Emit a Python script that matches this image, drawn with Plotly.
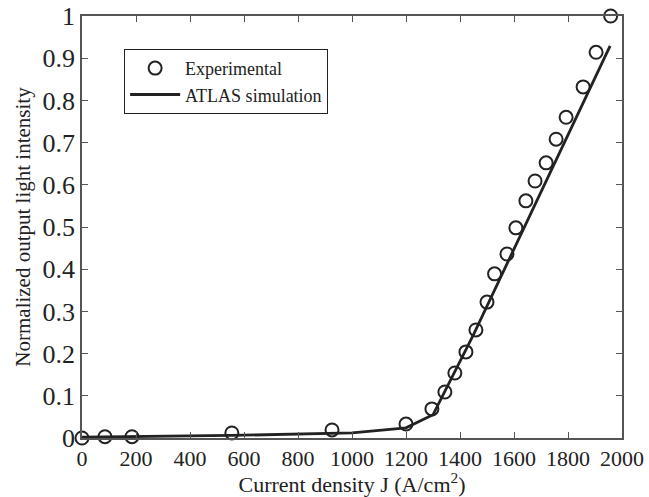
import plotly.graph_objects as go

exp_j = [0, 85, 185, 555, 926, 1200, 1296, 1344, 1381, 1422, 1459, 1500, 1528, 1574, 1607, 1644, 1678, 1719, 1756, 1793, 1856, 1904, 1958]
exp_i = [0.0, 0.003, 0.003, 0.012, 0.019, 0.033, 0.069, 0.109, 0.154, 0.204, 0.256, 0.322, 0.389, 0.436, 0.498, 0.562, 0.609, 0.652, 0.708, 0.76, 0.832, 0.914, 1.0]

sim_j = [0, 550, 1000, 1200, 1300, 1450, 1956]
sim_i = [0.002, 0.006, 0.012, 0.024, 0.055, 0.245, 0.929]

x_ticks = [0, 200, 400, 600, 800, 1000, 1200, 1400, 1600, 1800, 2000]
y_ticks = [0, 0.1, 0.2, 0.3, 0.4, 0.5, 0.6, 0.7, 0.8, 0.9, 1]

dark = "#222222"
axc = "#555555"
font = "Liberation Serif"

fig = go.Figure()
fig.add_trace(go.Scatter(x=exp_j, y=exp_i, mode="markers", name="Experimental",
                         marker=dict(symbol="circle-open", size=13, color=dark, line=dict(width=2, color=dark)),
                         cliponaxis=False))
fig.add_trace(go.Scatter(x=sim_j, y=sim_i, mode="lines", name="ATLAS simulation",
                         line=dict(color=dark, width=2.8), cliponaxis=False))

axis_common = dict(showline=True, linecolor=axc, linewidth=1.5, mirror="ticks", ticks="inside",
                   ticklen=6, tickcolor=axc, showgrid=False, zeroline=False, automargin=False)
fig.update_xaxes(range=[0, 2000], tickvals=x_ticks, ticktext=[str(v) for v in x_ticks], tickangle=0,
                 tickfont=dict(family=font, size=22, color=dark),
                 title=dict(text="Current density J (A/cm<sup>2</sup>)", font=dict(family=font, size=22, color=dark), standoff=6),
                 **axis_common)
fig.update_yaxes(range=[0, 1], tickvals=y_ticks, ticktext=[("%g" % v) for v in y_ticks],
                 tickfont=dict(family=font, size=26, color=dark),
                 title=dict(text="Normalized output light intensity", font=dict(family=font, size=21, color=dark), standoff=6),
                 **axis_common)
fig.update_layout(width=649, height=497, margin=dict(l=82, r=27, t=16, b=59),
                  font=dict(family=font),
                  paper_bgcolor="white", plot_bgcolor="white",
                  legend=dict(x=0.078, y=0.922, xanchor="left", yanchor="top", bordercolor=dark, borderwidth=1,
                              bgcolor="white", font=dict(family=font, size=18, color=dark), tracegroupgap=0,
                              itemwidth=50),
                  showlegend=True)
fig.write_html("out.html")
